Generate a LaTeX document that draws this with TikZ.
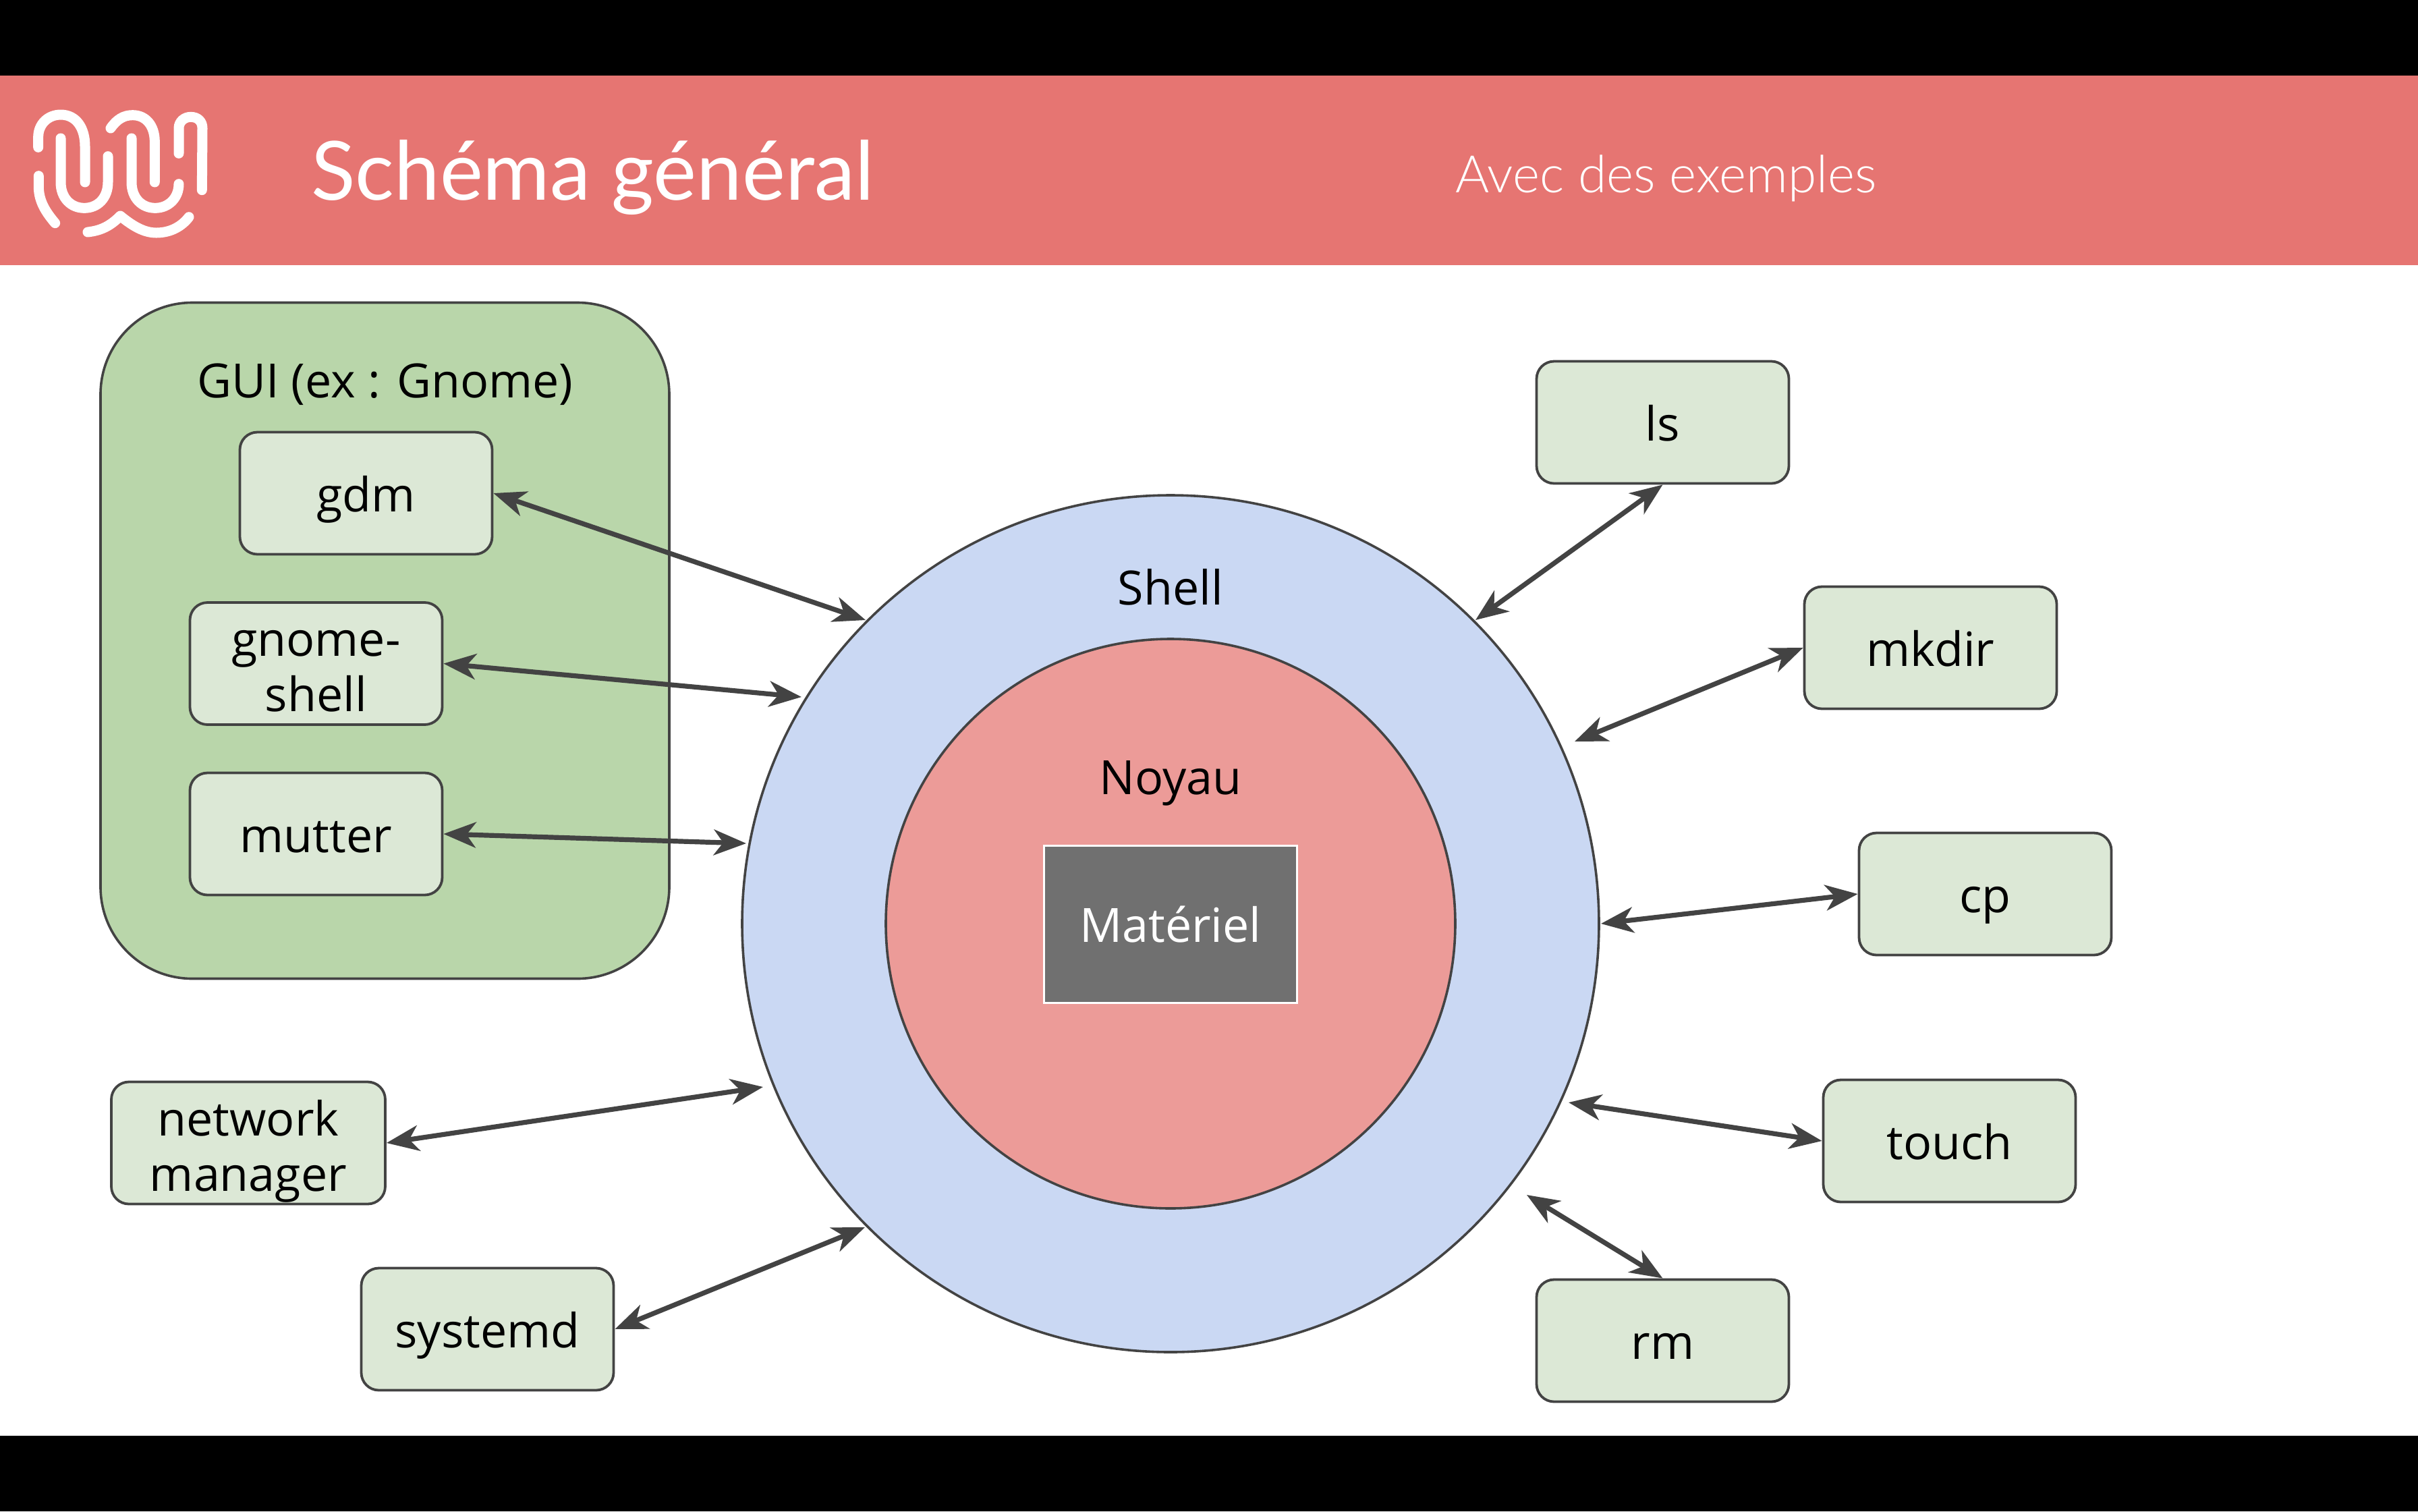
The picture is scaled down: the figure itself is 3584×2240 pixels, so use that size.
\documentclass[tikz,border=0pt]{standalone}
\usepackage{fontspec}
\setmainfont{Open Sans}
\newfontfamily\titlefont{Lato}
\newfontfamily\subfont{Lato Light}
\usetikzlibrary{arrows.meta}
\definecolor{barred}{HTML}{E67572}
\definecolor{edgegray}{HTML}{434343}
\definecolor{guigreen}{HTML}{B9D6AA}
\definecolor{boxgreen}{HTML}{DCE8D6}
\definecolor{shellblue}{HTML}{CAD8F3}
\definecolor{coreRed}{HTML}{EC9B98}
\definecolor{hwgray}{HTML}{707070}
\newcommand{\onel}[1]{\rule[-9pt]{0pt}{45pt}#1}
\newcommand{\twol}[2]{\rule{0pt}{39.2pt}#1\\#2\rule[-9pt]{0pt}{9pt}}
\tikzset{
  lab/.style={font=\fontsize{35}{41}\selectfont, text=black, align=center, inner sep=0pt},
  prog/.style={lab, draw=edgegray, line width=1.9pt, fill=boxgreen, rounded corners=13pt, minimum width=187pt, minimum height=90.5pt},
  disc/.style={circle, draw=edgegray, line width=1.8pt, inner sep=0pt},
  link/.style={draw=edgegray, line width=3.6pt, {Stealth[length=24pt,width=19pt,inset=7pt]}-{Stealth[length=24pt,width=19pt,inset=7pt]}},
  logo/.style={draw=white, line width=7.5pt, line cap=round, line join=round}
}
\begin{document}
\begin{tikzpicture}[x=0.5pt,y=-0.5pt]
\useasboundingbox (0,0) rectangle (3584,2240);
\fill[white] (0,0) rectangle (3584,2240);
\fill[black] (0,0) rectangle (3584,112);
\fill[black] (0,2128) rectangle (3584,2240);
\fill[barred] (0,112) rectangle (3584,393);
% logo
\begin{scope}[shift={(0,100)},x=0.16667pt,y=-0.16667pt]
\draw[logo] (170,355) -- (170,310) .. controls (170,250) and (215,210) .. (270,210) .. controls (340,210) and (378,270) .. (378,350) -- (378,510);
\draw[logo] (270,315) -- (270,510) .. controls (270,580) and (315,625) .. (375,625) .. controls (435,625) and (480,580) .. (480,510) -- (480,395);
\draw[logo] (172,482) -- (172,530) .. controls (172,600) and (210,650) .. (245,692);
\draw[logo] (492,270) .. controls (520,230) and (550,212) .. (590,212) .. controls (650,212) and (688,260) .. (688,330) -- (688,510);
\draw[logo] (585,315) -- (585,510) .. controls (585,580) and (630,625) .. (690,625) .. controls (750,625) and (795,580) .. (795,518);
\draw[logo] (795,382) -- (795,270) .. controls (795,240) and (820,220) .. (848,220) .. controls (880,220) and (900,240) .. (900,270) -- (898,545);
\draw[logo] (390,732) .. controls (450,725) and (490,705) .. (535,660) .. controls (590,705) and (640,735) .. (695,735) .. controls (760,735) and (810,705) .. (840,665);
\end{scope}
\node[anchor=base west,inner sep=0pt,text=white,font=\titlefont\fontsize{60.5}{66}\selectfont] (title) at (461,296) {Schéma général};
\node[anchor=base west,inner sep=0pt,text=white,font=\subfont\fontsize{38.3}{42}\selectfont] (subtitle) at (2157,285) {Avec des exemples};
% GUI container
\node[draw=edgegray,line width=1.8pt,fill=guigreen,rounded corners=68pt,minimum width=421.5pt,minimum height=501pt,inner sep=0pt] (gui) at (570.5,949.5) {};
\node[lab] (guilabel) at (571,562) {\onel{GUI (ex : Gnome)}};
% circles
\node[disc,fill=shellblue,minimum size=635pt] (shell) at (1735,1369) {};
\node[disc,fill=coreRed,minimum size=422pt] (core) at (1735,1369) {};
\node[lab] (shelllabel) at (1735,869) {\onel{Shell}};
\node[lab] (corelabel) at (1735,1150) {\onel{Noyau}};
\node[lab,text=white,draw=white,line width=1.5pt,fill=hwgray,minimum width=187.5pt,minimum height=116.5pt] (hw) at (1735,1369.5) {\onel{Matériel}};
% boxes
\node[prog] (gdm) at (542.5,731) {\onel{gdm}};
\node[prog] (gnomeshell) at (468.5,983.5) {\twol{gnome-}{shell}};
\node[prog] (mutter) at (468.5,1236) {\onel{mutter}};
\node[prog,minimum width=203pt] (network) at (368,1694) {\twol{network}{manager}};
\node[prog] (systemd) at (722.5,1970) {\onel{systemd}};
\node[prog] (ls) at (2464.5,626) {\onel{ls}};
\node[prog] (mkdir) at (2861.5,960) {\onel{mkdir}};
\node[prog] (cp) at (2942.5,1325) {\onel{cp}};
\node[prog] (touch) at (2889.5,1691) {\onel{touch}};
\node[prog] (rm) at (2464.5,1987) {\onel{rm}};
% free ends at the shell
\coordinate (egdm) at (1283,919);
\coordinate (egnome) at (1188,1033);
\coordinate (emutter) at (1106,1250);
\coordinate (enet) at (1131,1611);
\coordinate (esys) at (1282,1819);
\coordinate (els) at (2187,919);
\coordinate (emk) at (2334,1099);
\coordinate (ecp) at (2373,1369);
\coordinate (etouch) at (2325,1634);
\coordinate (erm) at (2263,1771);
% connectors
\draw[link] (gdm.east) -- (egdm);
\draw[link] (gnomeshell.east) -- (egnome);
\draw[link] (mutter.east) -- (emutter);
\draw[link] (network.east) -- (enet);
\draw[link] (systemd.east) -- (esys);
\draw[link] (ls.south) -- (els);
\draw[link] (mkdir.west) -- (emk);
\draw[link] (cp.west) -- (ecp);
\draw[link] (touch.west) -- (etouch);
\draw[link] (rm.north) -- (erm);
\end{tikzpicture}
\end{document}
